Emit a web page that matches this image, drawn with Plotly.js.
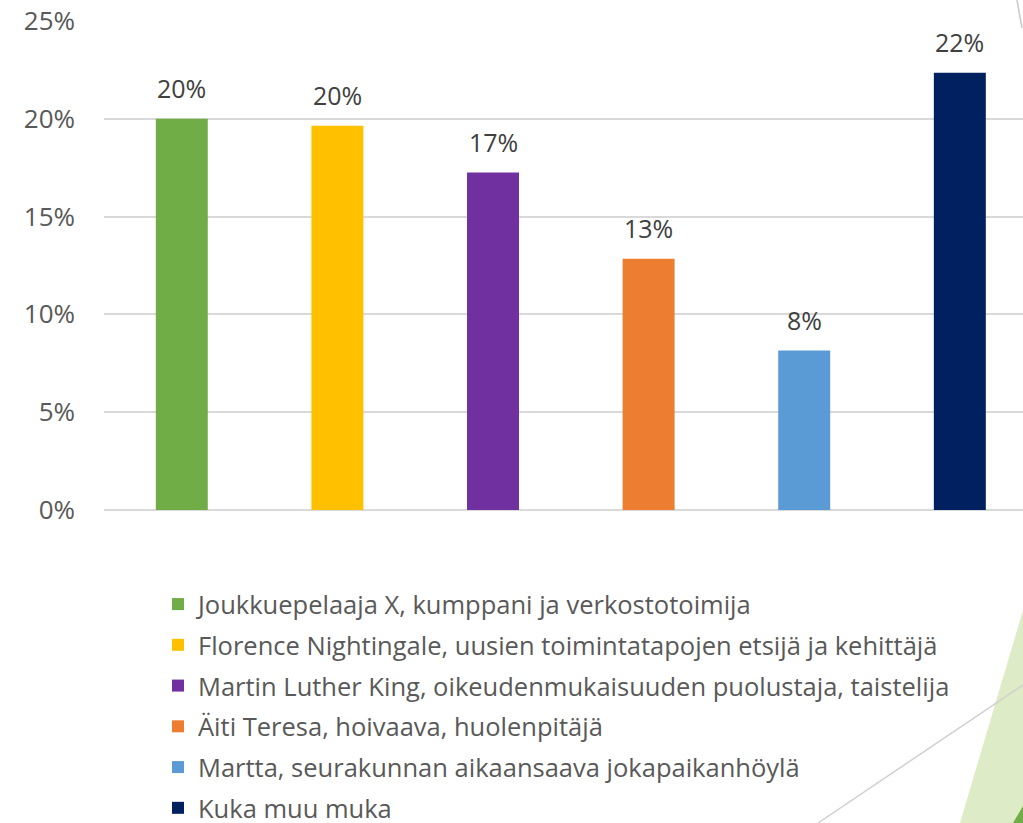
<!DOCTYPE html>
<html>
<head>
<meta charset="utf-8">
<script src="https://cdn.plot.ly/plotly-3.0.1.min.js"></script>
<style>
  html, body { margin: 0; padding: 0; background: #fff; overflow: hidden; }
  #chart { width: 1023px; height: 823px; }
</style>
</head>
<body>
<div id="chart"></div>
<script>
// Roolikysely — bar per role.
const CATEGORIES = [
  "Joukkuepelaaja X, kumppani ja verkostotoimija",
  "Florence Nightingale, uusien toimintatapojen etsijä ja kehittäjä",
  "Martin Luther King, oikeudenmukaisuuden puolustaja, taistelija",
  "Äiti Teresa, hoivaava, huolenpitäjä",
  "Martta, seurakunnan aikaansaava jokapaikanhöylä",
  "Kuka muu muka",
];
const SHARES = [0.200, 0.1965, 0.1725, 0.1285, 0.0815, 0.2235];
const COLORS = ["#70AD47", "#FFC000", "#7030A0", "#ED7D31", "#5B9BD5", "#002060"];
const Y_TICKS = [0, 0.05, 0.10, 0.15, 0.20, 0.25];
const Y_TICK_TEXT = ["0%", "5%", "10%", "15%", "20%", "25%"];

const FONT = "'Open Sans', 'Noto Sans', sans-serif";
const W = 1023, H = 823;
const M = { l: 104, r: 0, t: 20, b: 313, autoexpand: false };

// slide background decoration, given in pixels -> paper coords
const px = (x) => (x - M.l) / (W - M.l - M.r);
const py = (y) => (H - M.b - y) / (H - M.t - M.b);
const pathOf = (pts) => "M" + pts.map(([x, y]) => `${px(x)},${py(y)}`).join("L") + "Z";

const traces = CATEGORIES.map((name, i) => ({
  type: "bar",
  name,
  legendgroup: "g" + i,
  x: [name],
  y: [SHARES[i]],
  marker: { color: COLORS[i] },
  hovertemplate: "%{y:.1%}<extra></extra>",
}));

const labels = CATEGORIES.map((name, i) => ({
  x: name,
  y: SHARES[i],
  xref: "x",
  yref: "y",
  text: Math.round(SHARES[i] * 100) + "%",
  showarrow: false,
  yanchor: "bottom",
  yshift: 12,
  font: { family: FONT, size: 25, color: "#404040" },
}));

const layout = {
  width: W,
  height: H,
  margin: M,
  paper_bgcolor: "#fff",
  plot_bgcolor: "rgba(0,0,0,0)",
  font: { family: FONT, color: "#595959" },
  barmode: "overlay",
  bargap: 0.666,
  xaxis: {
    type: "category",
    range: [-0.5, 5.406],
    showticklabels: false,
    showgrid: false,
    zeroline: false,
    showline: false,
    ticks: "",
  },
  yaxis: {
    range: [0, 0.2505],
    tickvals: Y_TICKS,
    ticktext: Y_TICK_TEXT,
    tickfont: { family: FONT, size: 26, color: "#595959" },
    ticklabelstandoff: 28,
    showgrid: true,
    gridcolor: "#D9D9D9",
    gridwidth: 2,
    zeroline: true,
    zerolinecolor: "#D9D9D9",
    zerolinewidth: 2,
    showline: false,
    ticks: "",
  },
  showlegend: true,
  legend: {
    orientation: "v",
    x: px(158),
    xanchor: "left",
    y: py(581),
    yanchor: "top",
    traceorder: "grouped",
    tracegroupgap: 4.6,
    font: { family: FONT, size: 25.5, color: "#595959" },
    bgcolor: "rgba(0,0,0,0)",
  },
  annotations: labels,
  shapes: [
    { type: "path", xref: "paper", yref: "paper", layer: "below",
      path: pathOf([[1023, 610], [960, 823], [1030, 823], [1030, 600]]),
      fillcolor: "#DDEBC6", line: { width: 0 } },
    { type: "path", xref: "paper", yref: "paper", layer: "below",
      path: pathOf([[1013, 823], [1023, 806], [1030, 806], [1030, 823]]),
      fillcolor: "#70AD47", line: { width: 0 } },
    { type: "line", xref: "paper", yref: "paper", layer: "below",
      x0: px(818), y0: py(823), x1: px(1023), y1: py(685),
      line: { color: "#D0D0D0", width: 1.5 } },
    { type: "line", xref: "paper", yref: "paper", layer: "below",
      x0: px(1017), y0: py(0), x1: px(1022), y1: py(28),
      line: { color: "#C8C8C8", width: 1.5 } },
  ],
};

Plotly.newPlot("chart", traces, layout, { displayModeBar: false, staticPlot: true });
</script>
</body>
</html>
